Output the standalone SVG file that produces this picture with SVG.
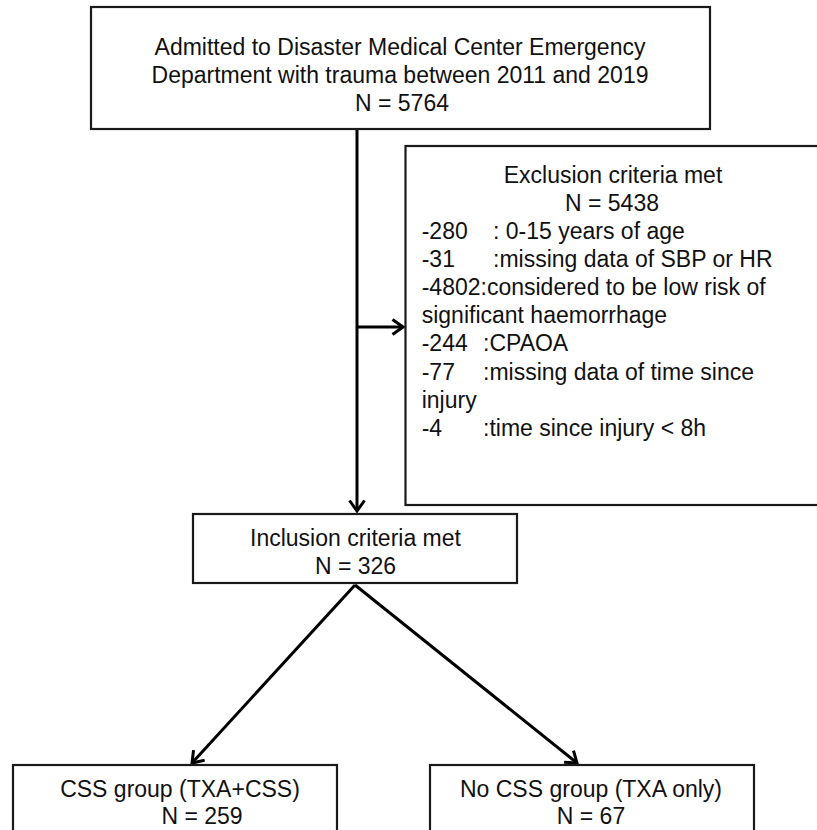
<svg xmlns="http://www.w3.org/2000/svg" width="817" height="830" viewBox="0 0 817 830">
<style>
.box{fill:#fff;stroke:#1a1a1a;stroke-width:2.2}
.t{font-family:"Liberation Sans",Arial,sans-serif;font-size:23px;fill:#111}
.c{text-anchor:middle}
.ln{stroke:#000;stroke-width:3;fill:none}
</style>
<defs>
<marker id="arr" markerUnits="userSpaceOnUse" viewBox="0 0 14 18" refX="12" refY="9" markerWidth="14" markerHeight="18" orient="auto">
<path d="M1.5,1.5 L12,9 L1.5,16.5" fill="none" stroke="#000" stroke-width="3"/>
</marker>
</defs>
<rect width="817" height="830" fill="#fff"/>
<g id="connectors">
<line class="ln" x1="357" y1="130" x2="357" y2="511" marker-end="url(#arr)"/>
<line class="ln" x1="357" y1="327" x2="403" y2="327" marker-end="url(#arr)"/>
<line class="ln" x1="355" y1="585" x2="192" y2="763" marker-end="url(#arr)"/>
<line class="ln" x1="355" y1="585" x2="577" y2="763" marker-end="url(#arr)"/>
</g>
<g id="admitted">
<rect class="box" x="91" y="7" width="619" height="122"/>
<text class="t c" x="400" y="55">Admitted to Disaster Medical Center Emergency</text>
<text class="t c" x="400" y="83">Department with trauma between 2011 and 2019</text>
<text class="t c" x="402" y="111">N = 5764</text>
</g>
<g id="exclusion">
<rect class="box" x="405.5" y="146" width="416" height="359"/>
<text class="t c" x="613" y="182.5">Exclusion criteria met</text>
<text class="t c" x="612" y="210.6">N = 5438</text>
<text class="t" y="238.8"><tspan x="421.7">-280</tspan><tspan x="493">: 0-15 years of age</tspan></text>
<text class="t" y="267"><tspan x="421.7">-31</tspan><tspan x="493">:missing data of SBP or HR</tspan></text>
<text class="t" x="421.7" y="295.1">-4802:considered to be low risk of</text>
<text class="t" x="421.7" y="323.3">significant haemorrhage</text>
<text class="t" y="351.4"><tspan x="421.7">-244</tspan><tspan x="483">:CPAOA</tspan></text>
<text class="t" y="379.6"><tspan x="421.7">-77</tspan><tspan x="483">:missing data of time since</tspan></text>
<text class="t" x="421.7" y="407.7">injury</text>
<text class="t" y="435.9"><tspan x="421.7">-4</tspan><tspan x="483">:time since injury &lt; 8h</tspan></text>
</g>
<g id="inclusion">
<rect class="box" x="193" y="514" width="324" height="69"/>
<text class="t c" x="355.5" y="546">Inclusion criteria met</text>
<text class="t c" x="355.5" y="574">N = 326</text>
</g>
<g id="css">
<rect class="box" x="13" y="765" width="324" height="80"/>
<text class="t c" x="180" y="797">CSS group (TXA+CSS)</text>
<text class="t c" x="202" y="824">N = 259</text>
</g>
<g id="nocss">
<rect class="box" x="430" y="765" width="324" height="80"/>
<text class="t c" x="591" y="797">No CSS group (TXA only)</text>
<text class="t c" x="591" y="824">N = 67</text>
</g>
</svg>
